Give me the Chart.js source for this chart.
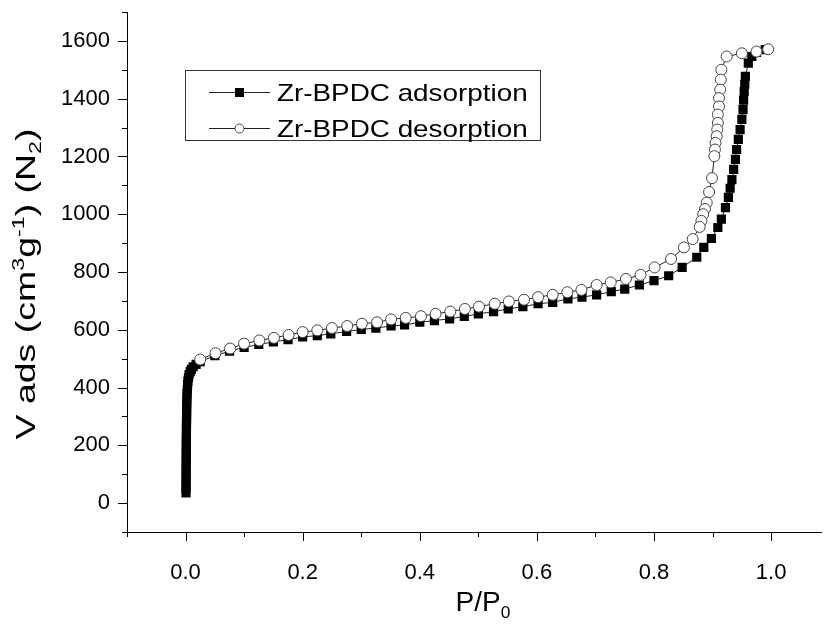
<!DOCTYPE html>
<html>
<head>
<meta charset="utf-8">
<script src="https://cdn.jsdelivr.net/npm/chart.js@4.4.1/dist/chart.umd.min.js"></script>
<style>
  html, body { margin: 0; padding: 0; background: #fff; }
  #wrap { position: relative; width: 828px; height: 624px; }
</style>
</head>
<body>
<div id="wrap"><canvas id="iso"></canvas></div>
<script>
// Isotherm data (P/P0, V ads in cm3/g)
const adsP = [0.0008, 0.0008, 0.0009, 0.0009, 0.001, 0.001, 0.001, 0.0011, 0.0011, 0.0012, 0.0012, 0.0013, 0.0013, 0.0014, 0.0015, 0.0015, 0.0016, 0.0017, 0.0018, 0.0019, 0.002, 0.0022, 0.0024, 0.0026, 0.003, 0.0035, 0.004, 0.005, 0.006, 0.008, 0.010, 0.013, 0.018,
  0.025, 0.05, 0.075, 0.1, 0.125, 0.15, 0.175, 0.2, 0.225, 0.248, 0.275, 0.3, 0.325, 0.351, 0.374, 0.4, 0.425, 0.451, 0.476, 0.5, 0.526, 0.551, 0.576, 0.602, 0.627, 0.653, 0.677, 0.702, 0.727,
  0.75, 0.775, 0.8, 0.825, 0.848, 0.873, 0.885, 0.898, 0.909, 0.915, 0.922, 0.927, 0.930, 0.933, 0.936, 0.939, 0.941, 0.944, 0.947, 0.950, 0.952, 0.953, 0.954, 0.955, 0.956, 0.961, 0.967, 0.975, 0.99];
const adsV = [35, 50, 65, 80, 95, 110, 125, 140, 155, 170, 185, 200, 215, 230, 245, 260, 275, 290, 305, 320, 335, 350, 365, 380, 395, 410, 422, 434, 445, 455, 463, 472, 480,
  490, 510, 526, 539, 549, 558, 566, 575, 580, 586, 594, 601, 606, 613, 617, 626, 632, 638, 646, 655, 663, 672, 680, 690, 695, 707, 713, 721, 732,
  741, 755, 770, 787, 816, 851, 885, 916, 954, 983, 1023, 1058, 1090, 1120, 1155, 1190, 1224, 1259, 1293, 1328, 1362, 1395, 1425, 1450, 1477, 1523, 1546, 1560, 1570];

const desP = [0.995, 0.975, 0.95, 0.924, 0.915, 0.914, 0.913, 0.911, 0.911, 0.909, 0.909, 0.908, 0.907, 0.905, 0.904, 0.903, 0.899, 0.894, 0.890, 0.887, 0.884, 0.881, 0.878, 0.866, 0.851, 0.829, 0.801, 0.777, 0.752,
  0.726, 0.702, 0.676, 0.652, 0.627, 0.602, 0.578, 0.552, 0.528, 0.501, 0.477, 0.452, 0.427, 0.402, 0.376, 0.351, 0.327, 0.301, 0.276, 0.25, 0.225, 0.2, 0.176, 0.151, 0.126, 0.10, 0.076, 0.051, 0.025];
const desV = [1571, 1563, 1557, 1546, 1500, 1466, 1431, 1402, 1373, 1345, 1316, 1293, 1270, 1247, 1224, 1201, 1125, 1077, 1040, 1018, 1000, 977, 956, 914, 885, 845, 816, 790, 776,
  764, 755, 738, 730, 721, 713, 704, 698, 690, 680, 672, 663, 655, 647, 641, 636, 626, 621, 613, 606, 598, 592, 582, 572, 563, 552, 535, 519, 497];

const seriesNames = ['Zr-BPDC adsorption', 'Zr-BPDC desorption'];

const xTicks = [0, 0.2, 0.4, 0.6, 0.8, 1.0];
const xMinor = [-0.1, 0.1, 0.3, 0.5, 0.7, 0.9];
const yTicks = [0, 200, 400, 600, 800, 1000, 1200, 1400, 1600];
const yMinor = [-100, 100, 300, 500, 700, 900, 1100, 1300, 1500, 1700];

const FONT = '"Liberation Sans", Arial, sans-serif';
const yTitle = [{ t: 'V ads (cm' }, { t: '3', s: 'sup' }, { t: 'g' }, { t: '-1', s: 'sup' }, { t: ') (N' }, { t: '2', s: 'sub' }, { t: ')' }];
const xTitle = [{ t: 'P/P' }, { t: '0', s: 'sub' }];

function richWidth(ctx, parts, size) {
  let w = 0;
  parts.forEach(p => {
    ctx.font = (p.s ? size * 0.62 : size) + 'px ' + FONT;
    w += ctx.measureText(p.t).width;
  });
  return w;
}

function drawRich(ctx, parts, size, x, y) {
  parts.forEach(p => {
    ctx.font = (p.s ? size * 0.62 : size) + 'px ' + FONT;
    const dy = p.s === 'sup' ? -size * 0.42 : (p.s === 'sub' ? size * 0.24 : 0);
    ctx.fillText(p.t, x, y + dy);
    x += ctx.measureText(p.t).width;
  });
}

// tick marks, axis titles and the boxed legend
const decor = {
  id: 'decor',
  afterDraw(chart) {
    const ctx = chart.ctx;
    const xs = chart.scales.x, ys = chart.scales.y;
    const area = chart.chartArea;
    ctx.save();
    ctx.strokeStyle = '#000';
    ctx.lineWidth = 1;
    ctx.beginPath();
    xTicks.forEach(v => { const px = Math.round(xs.getPixelForValue(v)) + 0.5; ctx.moveTo(px, area.bottom); ctx.lineTo(px, area.bottom + 9); });
    xMinor.forEach(v => { const px = Math.round(xs.getPixelForValue(v)) + 0.5; ctx.moveTo(px, area.bottom); ctx.lineTo(px, area.bottom + 5); });
    yTicks.forEach(v => { const py = Math.round(ys.getPixelForValue(v)) + 0.5; ctx.moveTo(area.left - 9, py); ctx.lineTo(area.left, py); });
    yMinor.forEach(v => { const py = Math.round(ys.getPixelForValue(v)) + 0.5; ctx.moveTo(area.left - 5, py); ctx.lineTo(area.left, py); });
    ctx.stroke();

    ctx.fillStyle = '#000';
    ctx.textBaseline = 'alphabetic';
    ctx.textAlign = 'left';

    // y title, rotated and drawn along the axis
    const wy = richWidth(ctx, yTitle, 27);
    ctx.save();
    ctx.translate(35, 284);
    ctx.rotate(-Math.PI / 2);
    ctx.scale(311 / wy, 1);
    drawRich(ctx, yTitle, 27, -wy / 2, 0);
    ctx.restore();

    // x title
    const wx = richWidth(ctx, xTitle, 28);
    drawRich(ctx, xTitle, 28, 483 - wx / 2, 611);

    // legend box
    ctx.lineWidth = 1;
    ctx.strokeStyle = '#333';
    ctx.strokeRect(185.5, 70.5, 355, 70);
    const rows = [92, 128];
    chart.data.datasets.forEach((ds, i) => {
      const y = rows[i];
      ctx.strokeStyle = '#222';
      ctx.beginPath();
      ctx.moveTo(209, y + 0.5);
      ctx.lineTo(270, y + 0.5);
      ctx.stroke();
      if (i === 0) {
        ctx.fillStyle = '#000';
        ctx.fillRect(235, y - 4, 9, 9);
      } else {
        ctx.fillStyle = '#fff';
        ctx.strokeStyle = '#444';
        ctx.beginPath();
        ctx.arc(239.5, y + 0.5, 4.5, 0, Math.PI * 2);
        ctx.fill();
        ctx.stroke();
      }
      ctx.fillStyle = '#000';
      ctx.save();
      ctx.translate(277, y + 9);
      ctx.scale(1.16, 1);
      ctx.font = '24px ' + FONT;
      ctx.fillText(ds.label, 0, 0);
      ctx.restore();
    });
    ctx.restore();
  }
};

const ctx = document.getElementById('iso').getContext('2d');
new Chart(ctx, {
  type: 'scatter',
  data: {
    datasets: [
      {
        label: seriesNames[0],
        data: adsP.map((p, i) => ({ x: p, y: adsV[i] })),
        showLine: true,
        borderColor: '#222',
        borderWidth: 1,
        pointStyle: 'rect',
        pointRadius: 6.5,
        pointBackgroundColor: '#000',
        pointBorderColor: '#000',
        pointBorderWidth: 0,
        order: 2
      },
      {
        label: seriesNames[1],
        data: desP.map((p, i) => ({ x: p, y: desV[i] })),
        showLine: true,
        borderColor: '#222',
        borderWidth: 1,
        pointStyle: 'circle',
        pointRadius: 5.5,
        pointBackgroundColor: '#fff',
        pointBorderColor: '#444',
        pointBorderWidth: 1,
        order: 1
      }
    ]
  },
  options: {
    responsive: true,
    maintainAspectRatio: false,
    devicePixelRatio: 1,
    animation: false,
    layout: { padding: { left: 0, top: 12, right: 0, bottom: 0 } },
    plugins: {
      legend: { display: false },
      tooltip: { enabled: false }
    },
    scales: {
      x: {
        type: 'linear',
        min: -0.1,
        max: 1.086,
        border: { display: true, color: '#000', width: 1 },
        grid: { drawOnChartArea: false, drawTicks: false, color: 'rgba(0,0,0,0)' },
        ticks: {
          font: { family: FONT, size: 22 },
          color: '#000',
          padding: 28,
          maxRotation: 0,
          callback: v => v.toFixed(1)
        },
        afterBuildTicks: s => { s.ticks = xTicks.map(v => ({ value: v })); },
        afterFit: s => { s.height = 92; s.paddingLeft = 0; s.paddingRight = 0; }
      },
      y: {
        type: 'linear',
        min: -100,
        max: 1700,
        border: { display: true, color: '#000', width: 1 },
        grid: { drawOnChartArea: false, drawTicks: false, color: 'rgba(0,0,0,0)' },
        ticks: {
          font: { family: FONT, size: 22 },
          color: '#000',
          padding: 17,
          callback: v => String(v)
        },
        afterBuildTicks: s => { s.ticks = yTicks.map(v => ({ value: v })); },
        afterFit: s => { s.width = 127; s.paddingTop = 0; s.paddingBottom = 0; }
      }
    }
  },
  plugins: [decor]
});
</script>
</body>
</html>
